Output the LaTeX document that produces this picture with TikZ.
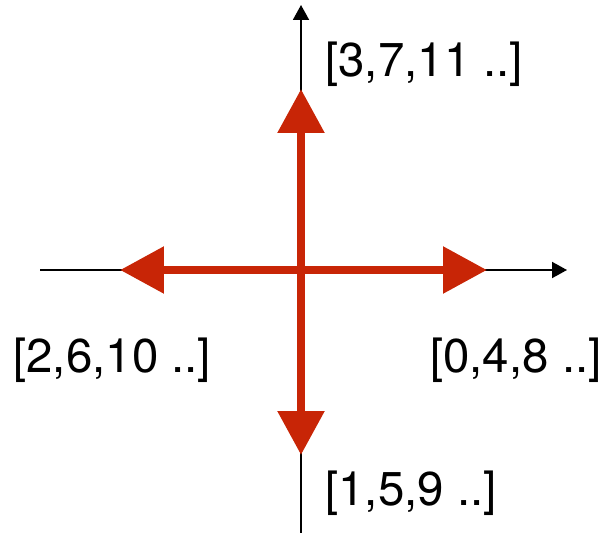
\documentclass[tikz,border=0pt]{standalone}
\usepackage{fontspec}
\setmainfont{TeX Gyre Heros}
\usetikzlibrary{arrows.meta}
\definecolor{kred}{RGB}{200,37,6}

\begin{document}
\begin{tikzpicture}[
    x=0.02cm, y=-0.02cm,
    axis/.style={-{Triangle[length=0.3cm, width=0.32cm]}, line width=1.1pt, black},
    dir/.style={-{Triangle[length=0.88cm, width=0.9cm]}, line width=5pt, kred},
    lbl/.style={inner sep=0pt, font=\fontsize{27}{32}\selectfont}
]
\useasboundingbox (0,0) rectangle (604,533);

% Axes
\coordinate (origin) at (301, 270);
\coordinate (west) at (40, 270);
\coordinate (east) at (567, 270);
\coordinate (south) at (301, 533);
\coordinate (north) at (301, 5);

\draw[axis] (west) -- (east);
\draw[axis] (south) -- (north);

% Red directions
\coordinate (d0) at (487, 270);
\coordinate (d1) at (301, 455);
\coordinate (d2) at (120, 270);
\coordinate (d3) at (301, 89);

\draw[dir] (origin) -- (d0);
\draw[dir] (origin) -- (d1);
\draw[dir] (origin) -- (d2);
\draw[dir] (origin) -- (d3);

% Labels
\node[lbl, anchor=base west] (l3) at (325, 77) {[3,7,11 ..]};
\node[lbl, anchor=base west] (l2) at (13, 372) {[2,6,10 ..]};
\node[lbl, anchor=base east] (l0) at (602, 372) {[0,4,8 ..]};
\node[lbl, anchor=base west] (l1) at (325, 505) {[1,5,9 ..]};

\end{tikzpicture}
\end{document}
